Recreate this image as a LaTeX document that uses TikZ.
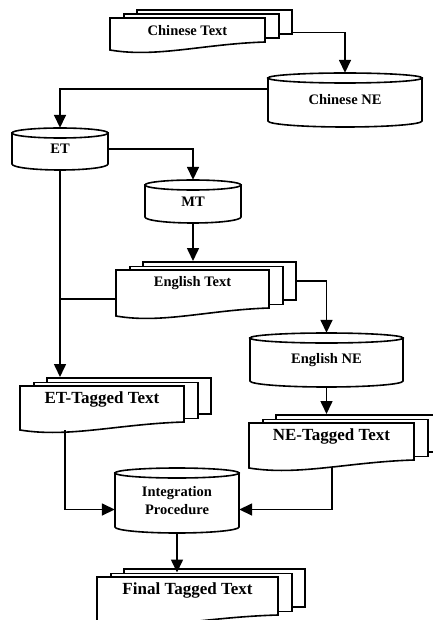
\documentclass[tikz,border=0pt]{standalone}
\usepackage{fontspec}
\setmainfont{Liberation Serif}
\usetikzlibrary{arrows.meta}

% stack of three pages: name, x, y, width, height, text style, text
\newcommand{\docstack}[7]{%
  \node[sheet, minimum width=#4, minimum height=#5-8, anchor=north west] (#1b) at (#2+26,#3-9) {};
  \node[sheet, minimum width=#4, minimum height=#5-8, anchor=north west] (#1m) at (#2+13,#3-4.5) {};
  \draw[frame] (#2,#3) -- (#2+#4,#3) -- (#2+#4,#3+#5-8)
    .. controls (#2+0.6*#4,#3+#5-6) and (#2+0.3*#4,#3+#5+8) .. (#2,#3+#5) -- cycle;
  \node[inner sep=0pt, minimum width=#4, minimum height=#5, anchor=north west] (#1) at (#2,#3) {};
  \node[#6] (#1t) at (#2+#4/2,#3+13) {#7};
}
% cylinder: name, centre x, centre y, width, height, text
\newcommand{\drum}[6]{%
  \draw[frame] (#2-#4/2,#3-#5/2+5) -- (#2-#4/2,#3+#5/2-6)
    arc[start angle=180, end angle=0, x radius=#4/2, y radius=6]
    -- (#2+#4/2,#3-#5/2+5) -- cycle;
  \draw[frame] (#2,#3-#5/2+5) ellipse[x radius=#4/2, y radius=5];
  \node[drumtxt, minimum width=#4, minimum height=#5] (#1) at (#2,#3) {#6};
}

\begin{document}
\begin{tikzpicture}[x=1pt,y=-1pt]
\tikzstyle{frame} = [draw, fill=white, line width=1.6pt]
\tikzstyle{sheet} = [frame, inner sep=0pt]
\tikzstyle{smalltxt} = [font=\bfseries\fontsize{14.5}{18}\selectfont, inner sep=0pt]
\tikzstyle{bigtxt} = [font=\bfseries\fontsize{17}{20}\selectfont, inner sep=0pt]
\tikzstyle{drumtxt} = [smalltxt, align=center]
\tikzstyle{link} = [line width=1.6pt, arrows=-{Triangle[length=13pt,width=12pt]}]
\tikzstyle{plain} = [line width=1.6pt]
\useasboundingbox (0,0) rectangle (432,620);

\docstack{ctext}{110}{18}{155}{32}{smalltxt}{Chinese Text}
\drum{cne}{345}{100}{154}{54}{Chinese NE}
\drum{et}{60}{149}{96}{42}{ET}
\drum{mt}{193}{201.5}{96}{43}{MT}
\docstack{etext}{116}{270}{153}{46}{smalltxt}{English Text}
\drum{ene}{326.5}{360}{153}{54}{English NE}
\docstack{ettag}{20}{386}{164}{44}{bigtxt}{ET-Tagged Text}
\docstack{netag}{249}{423}{165}{45}{bigtxt}{NE-Tagged Text}
\drum{integ}{177}{500.5}{124}{65}{Integration\\Procedure}
\docstack{final}{97}{577}{181}{46}{bigtxt}{Final Tagged Text}

\draw[link] ([yshift=2pt]ctextb.south east) -| (cne.north);
\draw[link] ([yshift=11pt]cne.west) -| (et.north);
\draw[link] (et.east) -| (mt.north);
\draw[link] (mt.south) -- (mt.south |- etextb.north);
\draw[link] (et.south) -- (et.south |- ettagb.north);
\coordinate (ejoin) at ([yshift=-6pt]etext.west);
\draw[plain] (ejoin) -- (ejoin -| et.south);
\draw[link] (etextb.east) -| (ene.north);
\draw[link] (ene.south) -- (ene.south |- netagb.north);
\coordinate (etout) at ([xshift=45pt]ettag.south west);
\draw[link] (etout) |- ([yshift=-9pt]integ.west);
\draw[link] (netag.south) |- ([yshift=-9pt]integ.east);
\draw[link] (integ.south) -- (integ.south |- finalm.north);
\end{tikzpicture}
\end{document}
